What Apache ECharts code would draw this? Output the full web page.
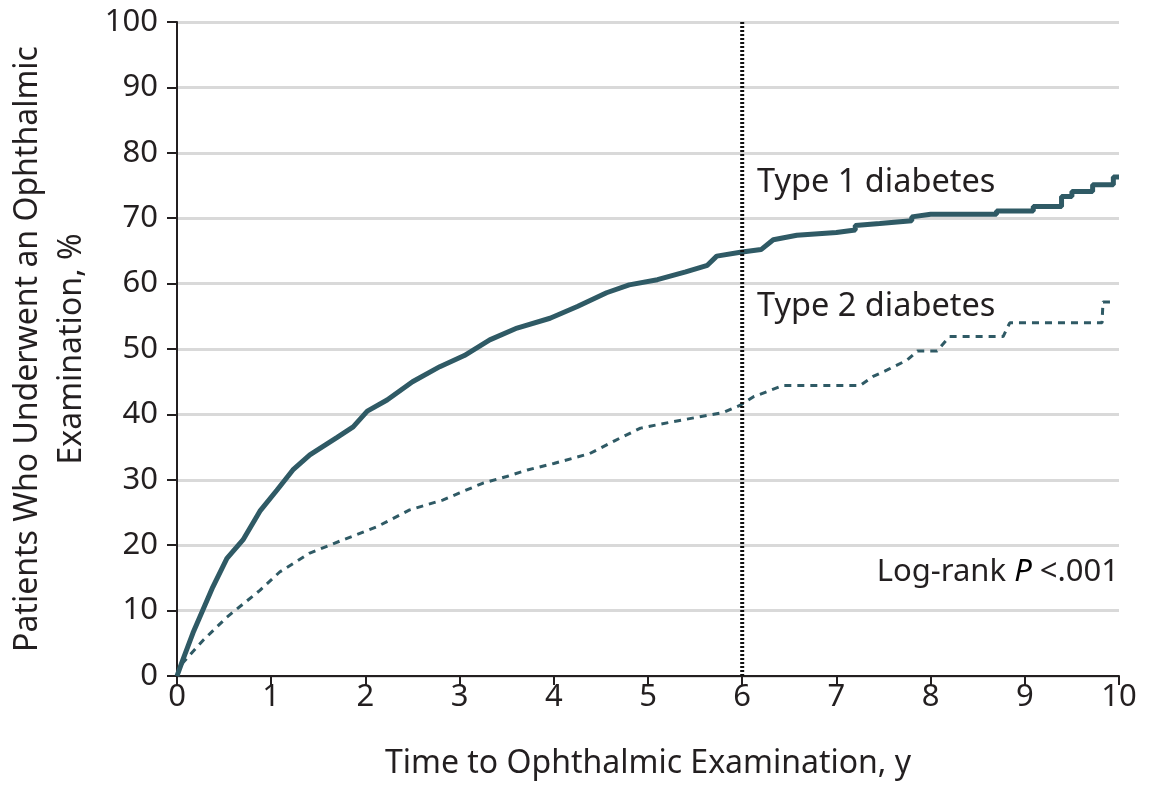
<!DOCTYPE html>
<html>
<head>
<meta charset="utf-8">
<script src="https://cdn.jsdelivr.net/npm/echarts@6/dist/echarts.min.js"></script>
<style>html,body{margin:0;padding:0;background:#fff}#c{width:1157px;height:785px}</style>
</head>
<body>
<div id="c"></div>
<script>
const xTicks = [0,1,2,3,4,5,6,7,8,9,10];
const yTicks = [0,10,20,30,40,50,60,70,80,90,100];
const type1 = [[0,0],[0.05,2],[0.17,6.6],[0.38,13.6],[0.53,18],[0.7,20.8],[0.88,25.2],[1.06,28.4],[1.23,31.5],[1.41,33.8],[1.7,36.5],[1.87,38.1],[2.02,40.5],[2.23,42.2],[2.5,45],[2.79,47.3],[3.05,49],[3.32,51.4],[3.61,53.2],[3.96,54.7],[4.25,56.5],[4.56,58.6],[4.8,59.8],[5.1,60.6],[5.4,61.8],[5.63,62.8],[5.73,64.2],[5.98,64.8],[6.2,65.2],[6.33,66.7],[6.58,67.4],[7.0,67.8],[7.2,68.2],[7.2,68.9],[7.46,69.2],[7.8,69.6],[7.8,70.2],[8.0,70.6],[8.7,70.6],[8.7,71.1],[9.09,71.1],[9.09,71.8],[9.39,71.8],[9.39,73.3],[9.5,73.3],[9.5,74.1],[9.72,74.1],[9.72,75.1],[9.94,75.1],[9.94,76.3],[10,76.3]];
const type2 = [[0,0],[0.06,2],[0.28,5.5],[0.53,9],[0.88,13.1],[1.09,15.9],[1.41,18.8],[1.76,20.8],[2.12,22.8],[2.47,25.4],[2.82,26.9],[3.0,28],[3.25,29.5],[3.5,30.5],[3.72,31.5],[4.0,32.5],[4.38,34],[4.65,36],[4.92,37.9],[5.27,38.9],[5.8,40.3],[5.98,41.4],[6.12,42.7],[6.43,44.4],[7.25,44.4],[7.39,45.8],[7.54,46.8],[7.75,48.3],[7.86,49.7],[8.07,49.7],[8.2,51.9],[8.77,51.9],[8.84,54],[9.82,54],[9.83,57.2],[9.96,57.2]];
const refLine = [[6,0],[6,100]];
const labels = {type1:'Type 1 diabetes', type2:'Type 2 diabetes'};

const FONT = 'Noto Sans';
const TXT = '#231f20';
const LINE = '#2f5a65';
const chart = echarts.init(document.getElementById('c'), null, {renderer:'canvas'});
chart.setOption({
  animation:false,
  backgroundColor:'#fff',
  textStyle:{fontFamily:FONT},
  grid:{left:177, right:38, top:22, bottom:109, containLabel:false, outerBoundsMode:'none'},
  xAxis:{
    type:'value', min:0, max:10, interval:1,
    name:'Time to Ophthalmic Examination, y', nameLocation:'middle', nameGap:72,
    nameTextStyle:{fontSize:32, color:TXT, fontFamily:FONT},
    axisLine:{lineStyle:{color:TXT, width:2}},
    axisTick:{show:true, length:9, lineStyle:{color:TXT, width:2}},
    axisLabel:{fontSize:31, color:TXT, margin:6, fontFamily:FONT},
    splitLine:{show:false}
  },
  yAxis:{
    type:'value', min:0, max:100, interval:10,
    name:'Patients Who Underwent an Ophthalmic\nExamination, %', nameLocation:'middle', nameGap:83, nameRotate:90,
    nameTextStyle:{fontSize:32, color:TXT, fontFamily:FONT, lineHeight:44},
    axisLine:{show:true, lineStyle:{color:TXT, width:2}},
    axisTick:{show:true, length:10, lineStyle:{color:TXT, width:2}},
    axisLabel:{fontSize:31, color:TXT, margin:19, fontFamily:FONT},
    splitLine:{show:true, lineStyle:{color:'#d9d9d9', width:3}}
  },
  series:[
    {type:'line', name:labels.type2, data:type2, symbol:'none', smooth:false,
     lineStyle:{color:LINE, width:3, type:[7,6]}, z:3},
    {type:'line', name:labels.type1, data:type1, symbol:'none', smooth:false,
     lineStyle:{color:LINE, width:5}, z:4},
    {type:'line', name:'ref', data:refLine, symbol:'none',
     lineStyle:{color:'#111', width:4, type:[2,2]}, z:5}
  ],
  graphic:[
    {type:'text', left:757, top:166, style:{text:labels.type1, fontSize:32.5, fill:TXT, fontFamily:FONT}},
    {type:'text', left:757, top:290, style:{text:labels.type2, fontSize:32.5, fill:TXT, fontFamily:FONT}},
    {type:'text', right:38, top:557, style:{
      text:'{a|Log-rank }{b|P}{a| <.001}', fontFamily:FONT,
      rich:{a:{fontSize:31, fill:TXT, color:TXT, fontFamily:FONT}, b:{fontSize:31, color:TXT, fontStyle:'italic', fontFamily:FONT}}
    }}
  ]
});
</script>
</body>
</html>
